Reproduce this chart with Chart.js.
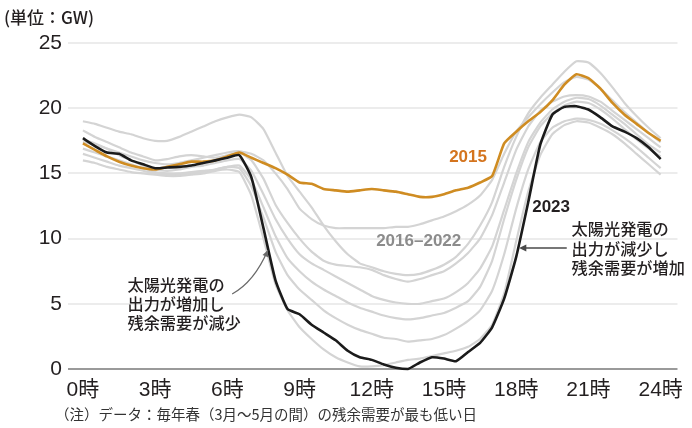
<!DOCTYPE html>
<html><head><meta charset="utf-8">
<script src="https://cdn.jsdelivr.net/npm/chart.js@4/dist/chart.umd.min.js"></script>
<style>html,body{margin:0;padding:0;background:#fff;}#wrap{position:relative;width:692px;height:428px;}</style>
</head><body><div id="wrap"><canvas id="c" width="692" height="428"></canvas></div>
<script>
// ---- data (残余需要, GW) ----
const hours = [0,0.5,1,1.5,2,2.5,3,3.5,4,4.5,5,5.5,6,6.5,7,7.5,8,8.5,9,9.5,10,10.5,11,11.5,12,12.5,13,13.5,14,14.5,15,15.5,16,16.5,17,17.5,18,18.5,19,19.5,20,20.5,21,21.5,22,22.5,23,23.5,24];
const hourTicks = [0,3,6,9,12,15,18,21,24];
const yTicks = [0,5,10,15,20,25];

const y2015 = [17.3,16.8,16.3,15.9,15.6,15.4,15.3,15.5,15.7,15.9,15.9,16.0,16.3,16.6,16.2,15.8,15.4,14.9,14.3,14.2,13.8,13.7,13.6,13.7,13.8,13.7,13.6,13.4,13.2,13.2,13.4,13.7,13.9,14.3,14.8,17.3,18.2,19.0,19.7,20.6,21.8,22.6,22.3,21.5,20.4,19.5,18.8,18.1,17.5];
const y2023 = [17.7,17.1,16.6,16.5,16.0,15.7,15.4,15.45,15.5,15.6,15.8,16.0,16.2,16.4,14.7,10.8,6.8,4.6,4.2,3.4,2.8,2.2,1.4,0.9,0.7,0.35,0.1,0.0,0.5,0.9,0.8,0.6,1.3,2.0,3.2,5.4,8.6,12.8,17.2,19.5,20.1,20.15,19.9,19.3,18.6,18.2,17.7,17.0,16.1];

const yGray1 = [19.0,18.8,18.5,18.2,18.0,17.7,17.5,17.5,17.8,18.2,18.6,19.0,19.3,19.5,19.3,18.4,16.6,14.8,13.6,12.4,11.0,9.8,8.8,8.1,7.8,7.5,7.3,7.2,7.3,7.6,8.0,8.6,9.6,11.0,12.8,15.5,17.8,19.6,20.8,21.8,22.8,23.6,23.5,22.7,21.6,20.4,19.4,18.5,17.7];
const yGray2 = [17.4,17.2,16.9,16.6,16.3,16.0,15.8,15.7,15.8,16.0,16.2,16.4,16.6,16.7,16.5,16.0,15.0,13.8,12.3,11.5,11.0,10.8,10.8,10.8,10.8,10.8,10.9,10.9,11.1,11.4,11.7,12.1,12.6,13.3,14.5,16.5,18.2,19.3,20.3,21.2,22.0,22.4,22.2,21.5,20.6,19.7,18.9,18.1,17.4];
const yGray3 = [18.3,17.8,17.4,17.0,16.6,16.3,16.0,16.1,16.3,16.4,16.3,16.2,16.4,16.6,16.0,14.6,12.6,11.2,10.0,9.0,8.3,8.0,7.9,7.8,7.6,7.2,6.9,6.7,6.9,7.2,7.5,8.1,8.9,10.0,11.8,14.3,16.8,18.6,19.8,20.5,20.9,21.0,20.9,20.5,19.8,19.1,18.4,17.7,17.0];
const yGray4 = [17.6,17.3,16.9,16.4,16.0,15.6,15.3,15.2,15.3,15.5,15.6,15.8,16.0,16.1,15.2,13.4,11.5,10.0,8.8,8.1,7.6,7.1,6.6,6.1,5.6,5.3,5.1,5.0,5.0,5.2,5.4,5.9,6.6,7.7,9.4,12.2,15.0,17.4,18.9,19.9,20.5,20.8,20.7,20.2,19.5,18.8,18.0,17.2,16.6];
const yGray5 = [16.9,16.6,16.3,16.0,15.7,15.4,15.1,15.0,15.0,15.1,15.2,15.3,15.5,15.6,14.5,12.4,10.2,8.5,7.5,6.7,6.1,5.6,5.1,4.7,4.4,4.1,3.9,3.8,3.9,4.1,4.3,4.7,5.2,6.3,8.3,11.5,14.5,17.0,18.6,19.6,20.2,20.5,20.4,19.9,19.2,18.4,17.6,16.9,16.3];
const yGray6 = [16.5,16.2,15.9,15.6,15.4,15.2,15.0,14.9,14.9,15.0,15.1,15.3,15.5,15.4,14.0,11.6,9.0,7.2,6.1,5.3,4.5,3.9,3.4,3.0,2.7,2.4,2.3,2.1,2.2,2.3,2.6,3.1,3.7,4.5,6.0,8.8,12.3,15.3,17.4,18.5,19.0,19.2,19.1,18.8,18.3,17.7,17.0,16.2,15.4];
const yGray7 = [16.0,15.8,15.5,15.3,15.1,15.0,14.9,14.8,14.8,14.9,15.0,15.2,15.3,15.1,13.3,10.0,6.5,4.5,3.2,2.3,1.5,0.9,0.5,0.2,0.2,0.3,0.5,0.7,0.8,1.0,1.2,1.4,1.7,2.3,3.4,5.8,9.8,13.6,16.4,18.0,18.7,19.0,18.9,18.5,18.0,17.3,16.5,15.7,14.9];

const grays = [yGray1,yGray2,yGray3,yGray4,yGray5,yGray6,yGray7];

const pts = arr => hours.map((h,i)=>({x:h,y:arr[i]}));

const FONT_NUM = "'Liberation Sans', Arial, 'Noto Sans CJK JP', sans-serif";
const FONT_JP = "'Noto Sans CJK JP', 'Noto Sans', sans-serif";

const datasets = grays.map(g => ({
  data: pts(g), borderColor:'#d4d4d4', borderWidth:2.2, pointRadius:0, tension:0.15, clip:false, order:3
}));
datasets.push({data: pts(y2015), borderColor:'#cf8c22', borderWidth:2.6, pointRadius:0, tension:0.15, clip:false, order:2});
datasets.push({data: pts(y2023), borderColor:'#1b1b1b', borderWidth:2.6, pointRadius:0, tension:0.15, clip:false, order:1});

function arrowHead(ctx, x, y, ang, size){
  ctx.beginPath();
  ctx.moveTo(x, y);
  ctx.lineTo(x - size*Math.cos(ang - 0.45), y - size*Math.sin(ang - 0.45));
  ctx.lineTo(x - size*Math.cos(ang + 0.45), y - size*Math.sin(ang + 0.45));
  ctx.closePath();
  ctx.fill();
}

const overlay = {
  id:'overlay',
  afterDraw(chart){
    const ctx = chart.ctx, xs = chart.scales.x, ys = chart.scales.y;
    const px = h => xs.getPixelForValue(h), py = v => ys.getPixelForValue(v);
    ctx.save();
    // unit label
    ctx.fillStyle = '#231f20';
    ctx.font = "500 17px " + FONT_JP;
    ctx.textAlign = 'left'; ctx.textBaseline = 'middle';
    ctx.fillText('(単位：GW)', 4, 18);
    // note
    ctx.font = "14.5px " + FONT_JP;
    ctx.fillStyle = '#333';
    ctx.fillText('（注）データ：毎年春（3月～5月の間）の残余需要が最も低い日', 55, 414);

    // series labels
    ctx.font = "bold 17px " + FONT_NUM;
    ctx.textAlign = 'center';
    ctx.fillStyle = '#d4741e';
    ctx.fillText('2015', px(16.0), py(16.26));
    ctx.fillStyle = '#231f20';
    ctx.fillText('2023', px(19.45), py(12.4));
    ctx.fillStyle = '#8c8c8c';
    ctx.fillText('2016–2022', px(13.95), py(9.8));

    // annotations
    ctx.font = "500 16.2px " + FONT_JP;
    ctx.fillStyle = '#231f20';
    ctx.textAlign = 'left';
    const leftLines = ['太陽光発電の','出力が増加し','残余需要が減少'];
    leftLines.forEach((t,i)=>ctx.fillText(t, px(1.85), py(6.44) + i*19));
    const rightLines = ['太陽光発電の','出力が減少し','残余需要が増加'];
    rightLines.forEach((t,i)=>ctx.fillText(t, px(20.3), py(10.74) + i*19.5));

    // left arrow (curved)
    ctx.strokeStyle = '#6a6a6a'; ctx.fillStyle = '#6a6a6a'; ctx.lineWidth = 1.3;
    const x0 = px(6.2), y0 = py(5.75), x1 = px(7.68), y1 = py(9.1);
    const cx = x0 + 22, cy = y0 - 12;
    ctx.beginPath(); ctx.moveTo(x0,y0); ctx.quadraticCurveTo(cx, cy, x1, y1); ctx.stroke();
    arrowHead(ctx, x1, y1, Math.atan2(y1-cy, x1-cx), 7);

    // right arrow (straight)
    ctx.strokeStyle = '#4a4a4a'; ctx.fillStyle = '#4a4a4a'; ctx.lineWidth = 1.5;
    const rx0 = px(20.1), rx1 = px(18.12), ry = py(9.28);
    ctx.beginPath(); ctx.moveTo(rx0, ry); ctx.lineTo(rx1 + 4, ry); ctx.stroke();
    arrowHead(ctx, rx1, ry, Math.PI, 8);
    ctx.restore();
  }
};

new Chart(document.getElementById('c'), {
  type:'line',
  data:{ datasets },
  options:{
    responsive:false, animation:false, devicePixelRatio:1,
    layout:{ padding:{ top:43, right:7, bottom:19, left:0 } },
    plugins:{ legend:{display:false}, tooltip:{enabled:false} },
    scales:{
      x:{ type:'linear', min:-0.62, max:24.7,
        grid:{ display:false, drawTicks:false }, border:{ display:false },
        afterBuildTicks: s => { s.ticks = hourTicks.map(v=>({value:v})); },
        ticks:{ callback: v => v + '時', font:{ size:21, family:FONT_NUM }, color:'#231f20', padding:9, maxRotation:0, autoSkip:false },
        afterFit: s => { s.height = 40; }
      },
      y:{ min:0, max:25,
        afterBuildTicks: s => { s.ticks = yTicks.map(v=>({value:v})); },
        grid:{ color: c => (c.tick && c.tick.value === 0) ? '#9a9a9a' : '#ececec', lineWidth:2, drawTicks:false },
        border:{ display:false },
        ticks:{ font:{ size:21, family:FONT_NUM }, color:'#231f20', padding:6 },
        afterFit: s => { s.width = 68; }
      }
    }
  },
  plugins:[overlay]
});
</script></body></html>
